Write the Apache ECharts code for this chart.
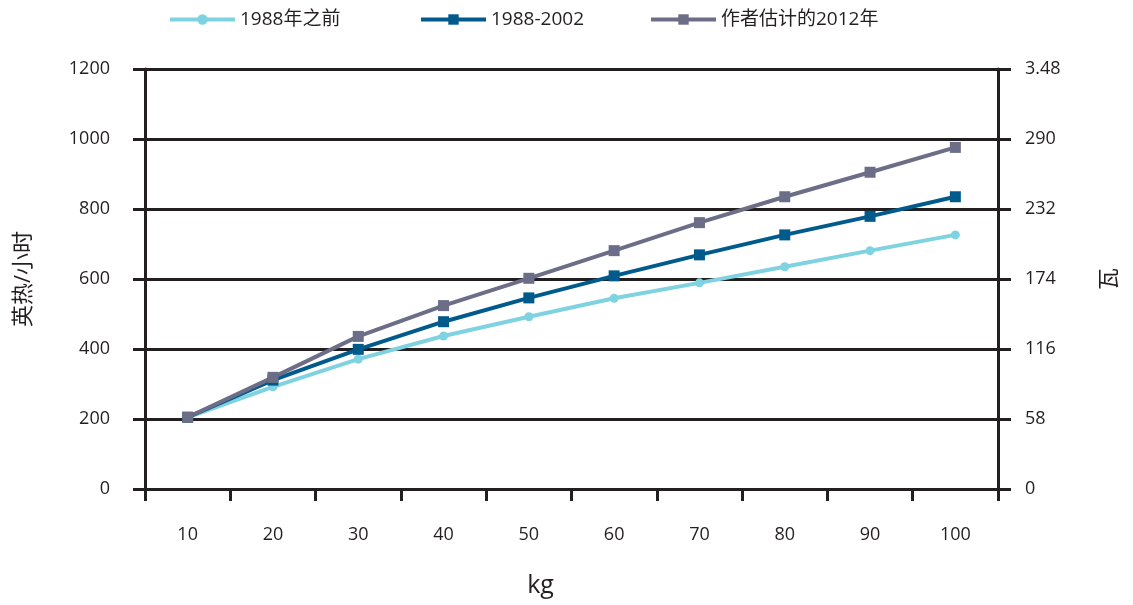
<!DOCTYPE html>
<html>
<head>
<meta charset="utf-8">
<script src="https://cdn.jsdelivr.net/npm/echarts@6/dist/echarts.min.js"></script>
<style>html,body{margin:0;padding:0;background:#fff}#c{width:1133px;height:605px}</style>
</head>
<body>
<div id="c"></div>
<script>
const categories = ['10','20','30','40','50','60','70','80','90','100'];
const seriesNames = ['1988年之前','1988-2002','作者估计的2012年'];
const before1988 = [205, 292, 371, 437, 492, 545, 589, 635, 681, 726];
const y1988to2002 = [205, 311, 399, 478, 546, 609, 669, 726, 779, 835];
const est2012 = [205, 319, 436, 524, 602, 681, 761, 835, 905, 976];
const rightTickLabels = {0:'0',58:'58',116:'116',174:'174',232:'232',290:'290',348:'3.48'};

const FONT = '"Open Sans", "Noto Sans CJK SC", sans-serif';
const colors = ['#7fd2df', '#005b8c', '#6b6e86'];
const black = '#231f20';

const chart = echarts.init(document.getElementById('c'));
function legendAt(name, left) {
  return {
    data: [name], left: left, top: 5, itemWidth: 65, itemHeight: 13,
    lineStyle: {width: 4},
    textStyle: {fontFamily: FONT, fontSize: 19, color: '#231f20'}
  };
}
chart.setOption({
  animation: false,
  color: colors,
  legend: [legendAt(seriesNames[0], 163), legendAt(seriesNames[1], 414), legendAt(seriesNames[2], 644)],
  grid: {left: 145, right: 135, top: 69, bottom: 116},
  xAxis: {
    type: 'category', data: categories, boundaryGap: true,
    name: 'kg', nameLocation: 'middle', nameGap: 84,
    nameTextStyle: {fontFamily: FONT, fontSize: 25, color: black, padding: [0, 62, 0, 0]},
    axisLine: {lineStyle: {color: black, width: 3}},
    axisTick: {show: true, length: 12, inside: false, alignWithLabel: false, lineStyle: {color: black, width: 3}},
    axisLabel: {fontFamily: FONT, fontSize: 18, color: black, margin: 37},
    splitLine: {show: false}
  },
  yAxis: [{
    type: 'value', min: 0, max: 1200, interval: 200, position: 'left',
    name: '英热/小时', nameLocation: 'middle', nameGap: 110,
    nameTextStyle: {fontFamily: FONT, fontSize: 22, color: black},
    axisLine: {show: true, lineStyle: {color: black, width: 3}},
    axisTick: {show: true, length: 12, lineStyle: {color: black, width: 3}},
    axisLabel: {fontFamily: FONT, fontSize: 18, color: black, margin: 35, formatter: v => String(v)},
    splitLine: {show: true, lineStyle: {color: black, width: 3}}
  }, {
    type: 'value', min: 0, max: 348, interval: 58, position: 'right',
    name: '瓦', nameLocation: 'middle', nameGap: 101,
    nameTextStyle: {fontFamily: FONT, fontSize: 22, color: black},
    axisLine: {show: true, lineStyle: {color: black, width: 3}},
    axisTick: {show: true, length: 13, lineStyle: {color: black, width: 3}},
    axisLabel: {fontFamily: FONT, fontSize: 18, color: black, margin: 27,
      formatter: v => rightTickLabels[v] !== undefined ? rightTickLabels[v] : String(v)},
    splitLine: {show: false}
  }],
  series: [
    {name: seriesNames[0], type: 'line', data: before1988, symbol: 'circle', symbolSize: 9,
     lineStyle: {width: 4}, itemStyle: {color: colors[0]}},
    {name: seriesNames[1], type: 'line', data: y1988to2002, symbol: 'rect', symbolSize: 11,
     lineStyle: {width: 4}, itemStyle: {color: colors[1]}},
    {name: seriesNames[2], type: 'line', data: est2012, symbol: 'rect', symbolSize: 11,
     lineStyle: {width: 4}, itemStyle: {color: colors[2]}}
  ]
});
</script>
</body>
</html>
